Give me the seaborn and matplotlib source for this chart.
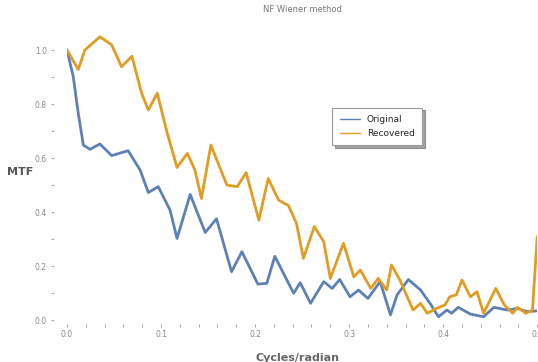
import numpy as np
import pandas as pd
import seaborn as sns
import matplotlib.pyplot as plt
from matplotlib.ticker import MultipleLocator

# MTF curves (cycles/radian vs MTF)
orig_x = [0.0, 0.0067, 0.012, 0.0174, 0.0245, 0.035, 0.0475, 0.065, 0.0777, 0.0865,
          0.097, 0.1096, 0.117, 0.131, 0.147, 0.159, 0.175, 0.186, 0.203, 0.2125,
          0.221, 0.241, 0.248, 0.259, 0.273, 0.282, 0.290, 0.301, 0.310, 0.320,
          0.333, 0.344, 0.351, 0.363, 0.376, 0.386, 0.395, 0.404, 0.409, 0.416,
          0.429, 0.443, 0.454, 0.468, 0.479, 0.489, 0.500]
orig_y = [1.0, 0.901, 0.765, 0.648, 0.632, 0.652, 0.609, 0.627, 0.556, 0.472,
          0.494, 0.407, 0.302, 0.465, 0.324, 0.375, 0.179, 0.253, 0.133, 0.136,
          0.236, 0.099, 0.138, 0.062, 0.142, 0.117, 0.150, 0.086, 0.111, 0.080,
          0.142, 0.019, 0.093, 0.150, 0.111, 0.062, 0.012, 0.037, 0.025, 0.047,
          0.022, 0.012, 0.047, 0.037, 0.043, 0.031, 0.034]

rec_x = [0.0, 0.012, 0.019, 0.035, 0.0475, 0.058, 0.069, 0.0794, 0.0865, 0.096,
         0.106, 0.117, 0.128, 0.136, 0.143, 0.153, 0.170, 0.181, 0.1905, 0.204,
         0.214, 0.225, 0.2355, 0.244, 0.2514, 0.263, 0.273, 0.280, 0.294, 0.305,
         0.312, 0.323, 0.331, 0.340, 0.345, 0.354, 0.368, 0.376, 0.383, 0.393,
         0.402, 0.407, 0.414, 0.420, 0.429, 0.436, 0.443, 0.456, 0.465, 0.474,
         0.479, 0.488, 0.495, 0.500]
rec_y = [1.0, 0.928, 1.0, 1.049, 1.019, 0.938, 0.977, 0.840, 0.778, 0.840,
         0.700, 0.565, 0.617, 0.556, 0.450, 0.648, 0.500, 0.494, 0.546, 0.370,
         0.524, 0.444, 0.424, 0.358, 0.228, 0.346, 0.290, 0.154, 0.284, 0.160,
         0.185, 0.117, 0.154, 0.111, 0.204, 0.148, 0.037, 0.062, 0.025, 0.043,
         0.056, 0.086, 0.093, 0.148, 0.086, 0.105, 0.025, 0.117, 0.056, 0.025,
         0.047, 0.025, 0.037, 0.309]

df = pd.concat([
    pd.DataFrame({"freq": orig_x, "mtf": orig_y, "curve": "Original"}),
    pd.DataFrame({"freq": rec_x, "mtf": rec_y, "curve": "Recovered"}),
])

sns.set_style("white")
fig = plt.figure(figsize=(5.38, 3.62), dpi=100)
ax = fig.add_axes([0.1245, 0.116, 0.874, 0.7906])

sns.lineplot(data=df, x="freq", y="mtf", hue="curve", sort=False,
             palette={"Original": "#5E81B5", "Recovered": "#E19C24"},
             linewidth=2, ax=ax, estimator=None)

ax.set_xlim(0, 0.5)
ax.set_ylim(0, 1.06)
for s in ax.spines.values():
    s.set_visible(False)
ax.spines["left"].set_position(("outward", 9))
ax.spines["bottom"].set_position(("outward", 3))

ax.xaxis.set_major_locator(MultipleLocator(0.1))
ax.xaxis.set_minor_locator(MultipleLocator(0.02))
ax.yaxis.set_major_locator(MultipleLocator(0.2))
ax.yaxis.set_minor_locator(MultipleLocator(0.1))
ax.tick_params(which="both", direction="out", length=2.5, width=0.8,
               color="#aaaaaa", labelsize=5.5, labelcolor="#888888",
               bottom=True, left=True)
ax.tick_params(axis="x", pad=2)
ax.tick_params(axis="y", pad=3)
ax.set_xticks([0.0, 0.1, 0.2, 0.3, 0.4, 0.5])
ax.set_xticklabels(["0.0", "0.1", "0.2", "0.3", "0.4", "0.5"])
ax.set_yticks([0.0, 0.2, 0.4, 0.6, 0.8, 1.0])
ax.set_yticklabels(["0.0", "0.2", "0.4", "0.6", "0.8", "1.0"])

ax.set_xlabel("Cycles/radian", fontsize=8, color="#666666", fontweight="bold")
ax.xaxis.set_label_coords(0.49, -0.115)
ax.set_ylabel("MTF", fontsize=8, color="#555555", fontweight="bold", rotation=0)
ax.yaxis.set_label_coords(-0.1, 0.5)
ax.set_title("NF Wiener method", fontsize=6, color="#777777", pad=16)

leg = ax.legend(title=None, loc="upper left", bbox_to_anchor=(0.555, 0.758),
                fontsize=6.5, frameon=True, fancybox=False, shadow=True,
                handlelength=2.2, borderpad=0.8, labelspacing=0.6)
leg.get_frame().set_edgecolor("#999999")
leg.get_frame().set_linewidth(0.8)
for line in leg.get_lines():
    line.set_linewidth(1)

fig.savefig("out.png", dpi=100)
